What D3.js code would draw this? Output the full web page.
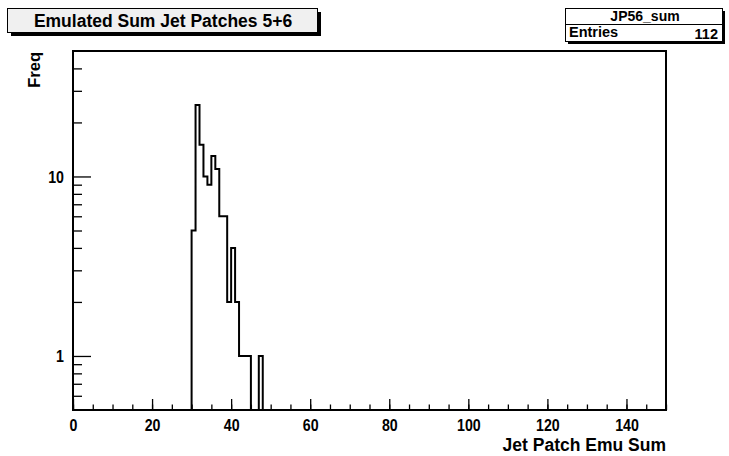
<!DOCTYPE html>
<html>
<head>
<meta charset="utf-8">
<script src="https://cdn.jsdelivr.net/npm/d3@7/dist/d3.min.js"></script>
<style>
  body { margin: 0; background: #fff; }
  svg { display: block; }
  text { font-family: "Liberation Sans", Arial, Helvetica, sans-serif; font-weight: bold; fill: #000; }
</style>
</head>
<body>
<svg id="chart" width="729" height="456"></svg>
<script>
// Histogram JP56_sum: unit-width bins, lower edges and counts
const binLowEdges = [30, 31, 32, 33, 34, 35, 36, 37, 38, 39, 40, 41, 42, 43, 44, 45, 46, 47];
const binCounts   = [5, 25, 15, 10, 9, 13, 11, 6, 6, 2, 4, 2, 1, 1, 1, 0, 0, 1];
const binWidth = 1;

const xTickValues = [0, 20, 40, 60, 80, 100, 120, 140];
const xMinorTicks = d3.range(0, 151, 5);
const yTickLabels = [1, 10];
const yMinorTicks = [0.6, 0.7, 0.8, 0.9, 2, 3, 4, 5, 6, 7, 8, 9, 20, 30, 40];

const titleText = "Emulated Sum Jet Patches 5+6";
const statsName = "JP56_sum";
const statsEntries = d3.sum(binCounts);
const xTitle = "Jet Patch Emu Sum";
const yTitle = "Freq";

const svg = d3.select("#chart");
const frame = { left: 73, right: 666, top: 51, bottom: 410 };

const x = d3.scaleLinear().domain([0, 150]).range([frame.left, frame.right]);
const yMin = 0.5, yMax = 50;
const y = d3.scaleLog().domain([yMin, yMax]).range([frame.bottom, frame.top]);

// narrow a text element horizontally while keeping its height
function narrow(sel, factor) {
  sel.each(function () {
    const w = this.getComputedTextLength();
    d3.select(this).attr("textLength", w * factor).attr("lengthAdjust", "spacingAndGlyphs");
  });
}

// x axis: minor ticks then labelled major ticks, drawn inward
const xMinor = svg.append("g").attr("transform", `translate(0,${frame.bottom})`)
  .call(d3.axisBottom(x).tickValues(xMinorTicks).tickSize(-5.5).tickFormat(""));
const xMajor = svg.append("g").attr("transform", `translate(0,${frame.bottom})`)
  .call(d3.axisBottom(x).tickValues(xTickValues).tickSize(-11).tickFormat(d3.format("d")));
[xMinor, xMajor].forEach(g => {
  g.select(".domain").remove();
  g.selectAll("line").attr("stroke", "#000").attr("stroke-width", 1.3);
});
xMajor.selectAll("text").attr("font-size", 16.5).attr("font-family", null)
  .attr("dy", null).attr("y", 21).call(narrow, 0.86);

// y axis (log): minor and labelled ticks
const yMinorG = svg.append("g").attr("transform", `translate(${frame.left},0)`)
  .call(d3.axisLeft(y).tickValues(yMinorTicks).tickSize(-9).tickFormat(""));
const yMajorG = svg.append("g").attr("transform", `translate(${frame.left},0)`)
  .call(d3.axisLeft(y).tickValues(yTickLabels).tickSize(-18).tickFormat(d3.format("d")));
[yMinorG, yMajorG].forEach(g => {
  g.select(".domain").remove();
  g.selectAll("line").attr("stroke", "#000").attr("stroke-width", 1.3);
});
yMajorG.selectAll("text").attr("font-size", 16.5).attr("font-family", null)
  .attr("x", -9).attr("dy", "0.36em").call(narrow, 0.86);

// histogram outline as a step path
const pts = [[binLowEdges[0], yMin]];
binLowEdges.forEach((lo, i) => {
  const v = Math.max(binCounts[i], yMin);
  pts.push([lo, v], [lo + binWidth, v]);
});
pts.push([binLowEdges[binLowEdges.length - 1] + binWidth, yMin]);
svg.append("path")
  .attr("d", d3.line().x(d => x(d[0])).y(d => y(d[1]))(pts))
  .attr("fill", "none").attr("stroke", "#000").attr("stroke-width", 2)
  .attr("stroke-linejoin", "miter");

// frame
svg.append("rect")
  .attr("x", frame.left).attr("y", frame.top)
  .attr("width", frame.right - frame.left).attr("height", frame.bottom - frame.top)
  .attr("fill", "none").attr("stroke", "#000").attr("stroke-width", 2);

// axis titles
svg.append("text").attr("x", frame.right).attr("y", 451)
  .attr("text-anchor", "end").attr("font-size", 17.5).text(xTitle);
svg.append("text").attr("transform", `translate(40,${frame.top + 1}) rotate(-90)`)
  .attr("text-anchor", "end").attr("font-size", 16.5).text(yTitle);

// title pave with shadow
svg.append("rect").attr("x", 11).attr("y", 12).attr("width", 310).attr("height", 24).attr("fill", "#000");
svg.append("rect").attr("x", 7.5).attr("y", 8.5).attr("width", 310).attr("height", 24)
  .attr("fill", "#f0f0f0").attr("stroke", "#000").attr("stroke-width", 1);
svg.append("text").attr("x", 163).attr("y", 27).attr("text-anchor", "middle")
  .attr("font-size", 17.5).text(titleText);

// statistics box with shadow
svg.append("rect").attr("x", 568).attr("y", 11).attr("width", 157).attr("height", 33).attr("fill", "#000");
svg.append("rect").attr("x", 565.5).attr("y", 8.5).attr("width", 157).attr("height", 33)
  .attr("fill", "#fff").attr("stroke", "#000").attr("stroke-width", 1);
svg.append("line").attr("x1", 565.5).attr("x2", 722.5).attr("y1", 24.5).attr("y2", 24.5)
  .attr("stroke", "#000").attr("stroke-width", 1);
svg.append("text").attr("x", 645).attr("y", 21).attr("text-anchor", "middle")
  .attr("font-size", 14).text(statsName);
svg.append("text").attr("x", 569).attr("y", 37).attr("font-size", 14.5).text("Entries");
svg.append("text").attr("x", 718).attr("y", 38.5).attr("text-anchor", "end")
  .attr("font-size", 14.5).text(statsEntries);
</script>
</body>
</html>
